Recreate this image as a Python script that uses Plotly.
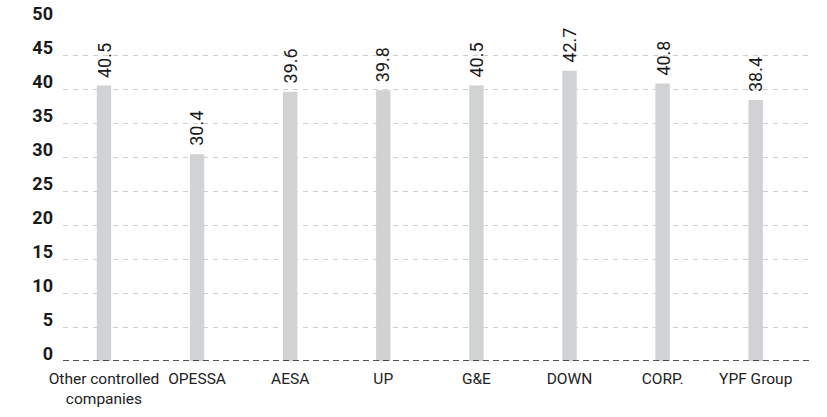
import plotly.graph_objects as go

categories = ["Other controlled<br>companies", "OPESSA", "AESA", "UP", "G&E", "DOWN", "CORP.", "YPF Group"]
values = [40.5, 30.4, 39.6, 39.8, 40.5, 42.7, 40.8, 38.4]
y_ticks = [0, 5, 10, 15, 20, 25, 30, 35, 40, 45, 50]

FONT = "Roboto, sans-serif"
x_pos = list(range(len(categories)))

fig = go.Figure()
fig.add_trace(go.Bar(
    x=x_pos, y=values, width=0.155,
    marker=dict(color="#d1d2d4", line=dict(width=0)),
    hoverinfo="skip",
))

for xi, v in zip(x_pos, values):
    fig.add_annotation(
        x=xi, y=v, text=f"{v:.1f}", textangle=-90, showarrow=False,
        xanchor="center", yanchor="bottom", yshift=6,
        font=dict(family=FONT, size=18, color="#1a1a1a"),
    )

# dashed baseline at zero
fig.add_shape(type="line", xref="paper", yref="y", x0=0, x1=1, y0=0, y1=0,
              line=dict(color="#1a1a1a", width=1.5, dash="6px,4px"), layer="above")

fig.update_layout(
    width=827, height=417,
    margin=dict(l=63, r=17, t=21, b=56, autoexpand=False),
    paper_bgcolor="white", plot_bgcolor="white",
    showlegend=False,
    xaxis=dict(
        range=[-0.44, 7.583], tickmode="array", tickvals=x_pos, ticktext=categories,
        showgrid=False, zeroline=False, showline=False, ticks="",
        ticklabelstandoff=6, automargin=False,
        tickfont=dict(family=FONT, size=15.5, color="#222222"),
    ),
    yaxis=dict(
        range=[0, 50], tickmode="array", tickvals=y_ticks,
        showgrid=True, gridcolor="#cfcfcf", gridwidth=1, griddash="5px,5px",
        zeroline=False, showline=False, ticks="", automargin=False,
        ticklabelshift=-7, ticklabelstandoff=9,
        tickfont=dict(family=FONT, size=18, color="#1a1a1a", weight="bold"),
    ),
)

fig.write_html("out.html")
